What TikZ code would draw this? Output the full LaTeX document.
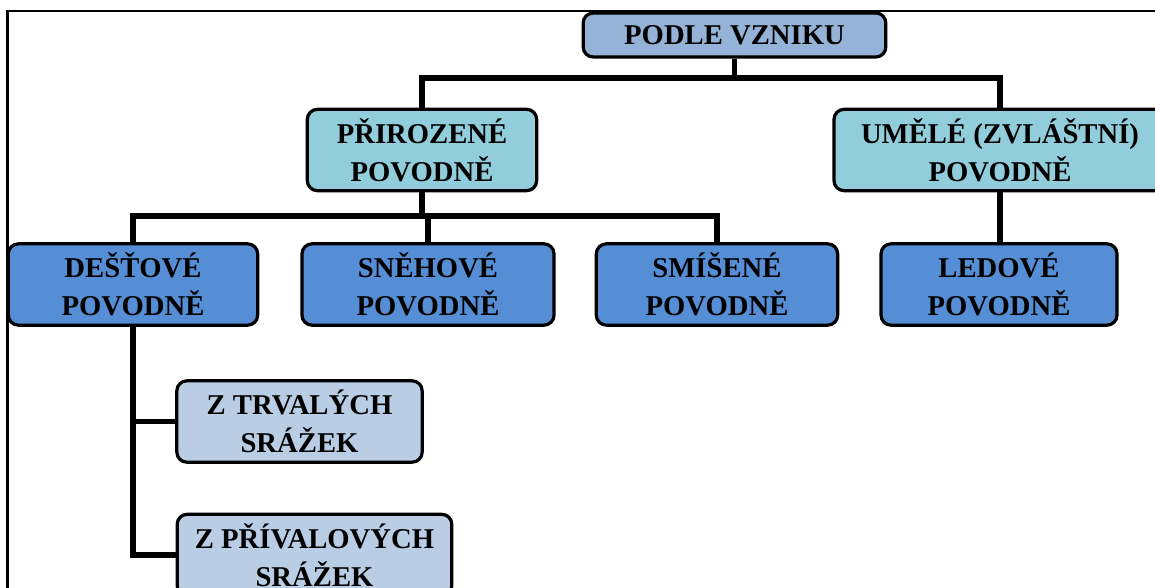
\documentclass[tikz,border=0pt]{standalone}
\usepackage{fontspec}
\setmainfont{Liberation Serif}
\definecolor{ctop}{HTML}{95B3D7}
\definecolor{cnat}{HTML}{92CDDC}
\definecolor{cmid}{HTML}{558ED5}
\definecolor{clow}{HTML}{B9CDE5}
\begin{document}
\begin{tikzpicture}[x=0.75pt,y=-0.75pt,
  box/.style={draw=black, line width=2.4pt, rounded corners=7.5pt, align=center,
    inner sep=0pt, minimum height=61pt,
    font=\bfseries\fontsize{21.5}{28.5}\selectfont},
  conn/.style={draw=black, line width=4pt}]
\useasboundingbox (0,0) rectangle (1155,588);
\draw[line width=1.6pt] (7.5,600) -- (7.5,11) -- (1170,11);

\node[box, fill=ctop, minimum width=227pt, minimum height=33pt] (top) at (734.5,35) {PODLE VZNIKU};
\node[box, fill=cnat, minimum width=172pt] (nat) at (422,150) {PŘIROZENÉ\\POVODNĚ};
\node[box, fill=cnat, minimum width=249pt] (art) at (1000,150) {UMĚLÉ (ZVLÁŠTNÍ)\\POVODNĚ};
\node[box, fill=cmid, minimum width=187pt] (rain) at (133,284.5) {DEŠŤOVÉ\\POVODNĚ};
\node[box, fill=cmid, minimum width=189pt] (snow) at (428,284.5) {SNĚHOVÉ\\POVODNĚ};
\node[box, fill=cmid, minimum width=181pt] (mixed) at (717,284.5) {SMÍŠENÉ\\POVODNĚ};
\node[box, fill=cmid, minimum width=177pt] (ice) at (999,284.5) {LEDOVÉ\\POVODNĚ};
\node[box, fill=clow, minimum width=184pt] (trv) at (299.5,421.5) {Z TRVALÝCH\\SRÁŽEK};
\node[box, fill=clow, minimum width=206pt] (priv) at (314.5,555) {Z PŘÍVALOVÝCH\\SRÁŽEK};

\coordinate (b1) at (734.5,78);
\coordinate (b2) at (422,216);

\begin{scope}[on background layer/.try]
\end{scope}
\draw[conn] (top.south) -- (b1);
\draw[conn] (nat.north) |- (b1) -| (art.north);
\draw[conn] (nat.south) -- (b2);
\draw[conn] (rain.north) |- (b2) -| (mixed.north);
\draw[conn] (snow.north) -- (snow.north |- b2);
\draw[conn] (art.south) -- (ice.north -| art.south);
\draw[conn] (rain.south) |- (priv.west);
\draw[conn] (trv.west) -- (trv.west -| rain.south);
\end{tikzpicture}
\end{document}
